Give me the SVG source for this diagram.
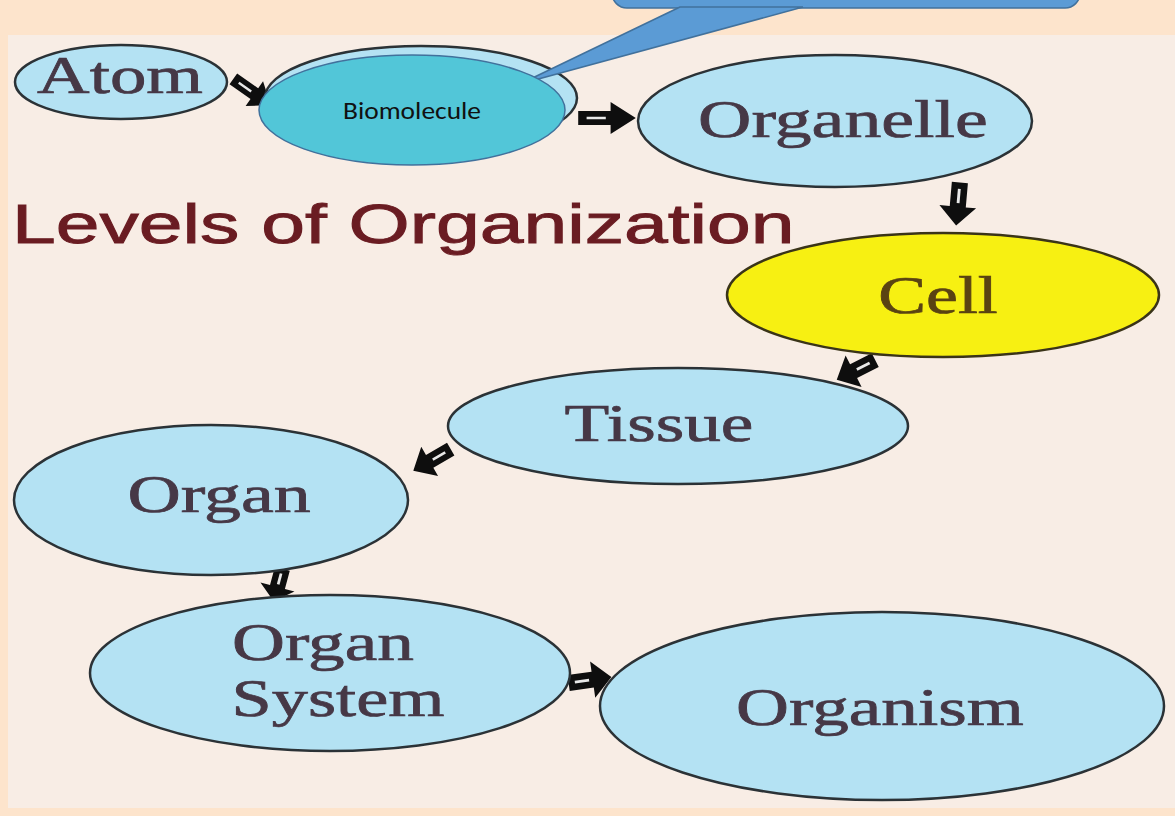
<svg xmlns="http://www.w3.org/2000/svg" width="1175" height="816" viewBox="0 0 1175 816">
<defs>
<style>
.lvl{fill:#b4e2f3;stroke:#2b3236;stroke-width:2.5}
.cell{fill:#f7f012;stroke:#3a3418;stroke-width:2.5}
.lbl{font-family:"Liberation Serif","Times New Roman",serif;font-size:52px;fill:#463846;stroke:#463846;stroke-width:0.7;text-anchor:middle}
.arrow{fill:#0e0e0e}
.stripe{stroke:#e8e8e8;stroke-width:2.5;fill:none}
</style>
<g id="blk">
<path class="arrow" d="M-24,-7 H3 V-16 L24,0 L3,16 V7 H-24 Z"/>
<path class="stripe" d="M-17,0 H-1"/>
</g>
</defs>
<rect x="0" y="0" width="1175" height="816" fill="#fde4cc"/>
<rect x="8" y="35" width="1167" height="773" fill="#f8ede5"/>

<text transform="translate(12,243) scale(1.43,1)" font-family="'Liberation Sans',Arial,sans-serif" font-size="55" fill="#6a1c22" stroke="#6a1c22" stroke-width="0.9">Levels of Organization</text>

<g id="connectors">
<use href="#blk" transform="translate(252,92) rotate(35) scale(0.95)"/>
<use href="#blk" transform="translate(607,118) scale(1.2,1)"/>
<use href="#blk" transform="translate(958,204) rotate(95) scale(0.9,1.15)"/>
<use href="#blk" transform="translate(856,370) rotate(153) scale(0.9,1.1)"/>
<use href="#blk" transform="translate(432,460) rotate(150) scale(0.9,1.05)"/>
<use href="#blk" transform="translate(278,585) rotate(105) scale(0.7,1.1)"/>
<use href="#blk" transform="translate(590,680) rotate(-8) scale(0.9,1.15)"/>
</g>

<g id="atom">
<ellipse class="lvl" cx="121" cy="82" rx="106" ry="37"/>
<text class="lbl" transform="translate(120,93) scale(1.4,1)" font-size="50">Atom</text>
</g>

<g id="biomolecule-original">
<ellipse class="lvl" cx="421" cy="98" rx="156" ry="52"/>
</g>

<g id="callout">
<rect x="612" y="-30" width="468" height="38" rx="15" fill="#5b9bd5" stroke="#41719c" stroke-width="1.5"/>
<polygon points="680,7 520,84 803,7" fill="#5b9bd5" stroke="#41719c" stroke-width="1.5"/>
<rect x="676" y="0" width="132" height="6" fill="#5b9bd5"/>
</g>

<g id="biomolecule">
<ellipse cx="412" cy="110" rx="153" ry="55" fill="#52c6d8" stroke="#41719c" stroke-width="1.5"/>
<text x="412" y="119" text-anchor="middle" font-family="Carlito,'Liberation Sans',sans-serif" font-size="24" fill="#111" textLength="138" lengthAdjust="spacingAndGlyphs">Biomolecule</text>
</g>

<g id="organelle">
<ellipse class="lvl" cx="835" cy="121" rx="197" ry="66"/>
<text class="lbl" transform="translate(843,137) scale(1.42,1)">Organelle</text>
</g>

<g id="cell">
<ellipse class="cell" cx="943" cy="295" rx="216" ry="62"/>
<text class="lbl" transform="translate(938,313) scale(1.38,1)" style="fill:#5a4312;stroke:#5a4312">Cell</text>
</g>

<g id="tissue">
<ellipse class="lvl" cx="678" cy="426" rx="230" ry="58"/>
<text class="lbl" transform="translate(659,441) scale(1.41,1)">Tissue</text>
</g>

<g id="organ">
<ellipse class="lvl" cx="211" cy="500" rx="197" ry="75"/>
<text class="lbl" transform="translate(219,512) scale(1.42,1)">Organ</text>
</g>

<g id="organ-system">
<ellipse class="lvl" cx="330" cy="673" rx="240" ry="78"/>
<text class="lbl" transform="translate(323,660) scale(1.41,1)">Organ</text>
<text class="lbl" transform="translate(338,716) scale(1.39,1)">System</text>
</g>

<g id="organism">
<ellipse class="lvl" cx="882" cy="706" rx="282" ry="94"/>
<text class="lbl" transform="translate(880,725) scale(1.41,1)">Organism</text>
</g>
</svg>
